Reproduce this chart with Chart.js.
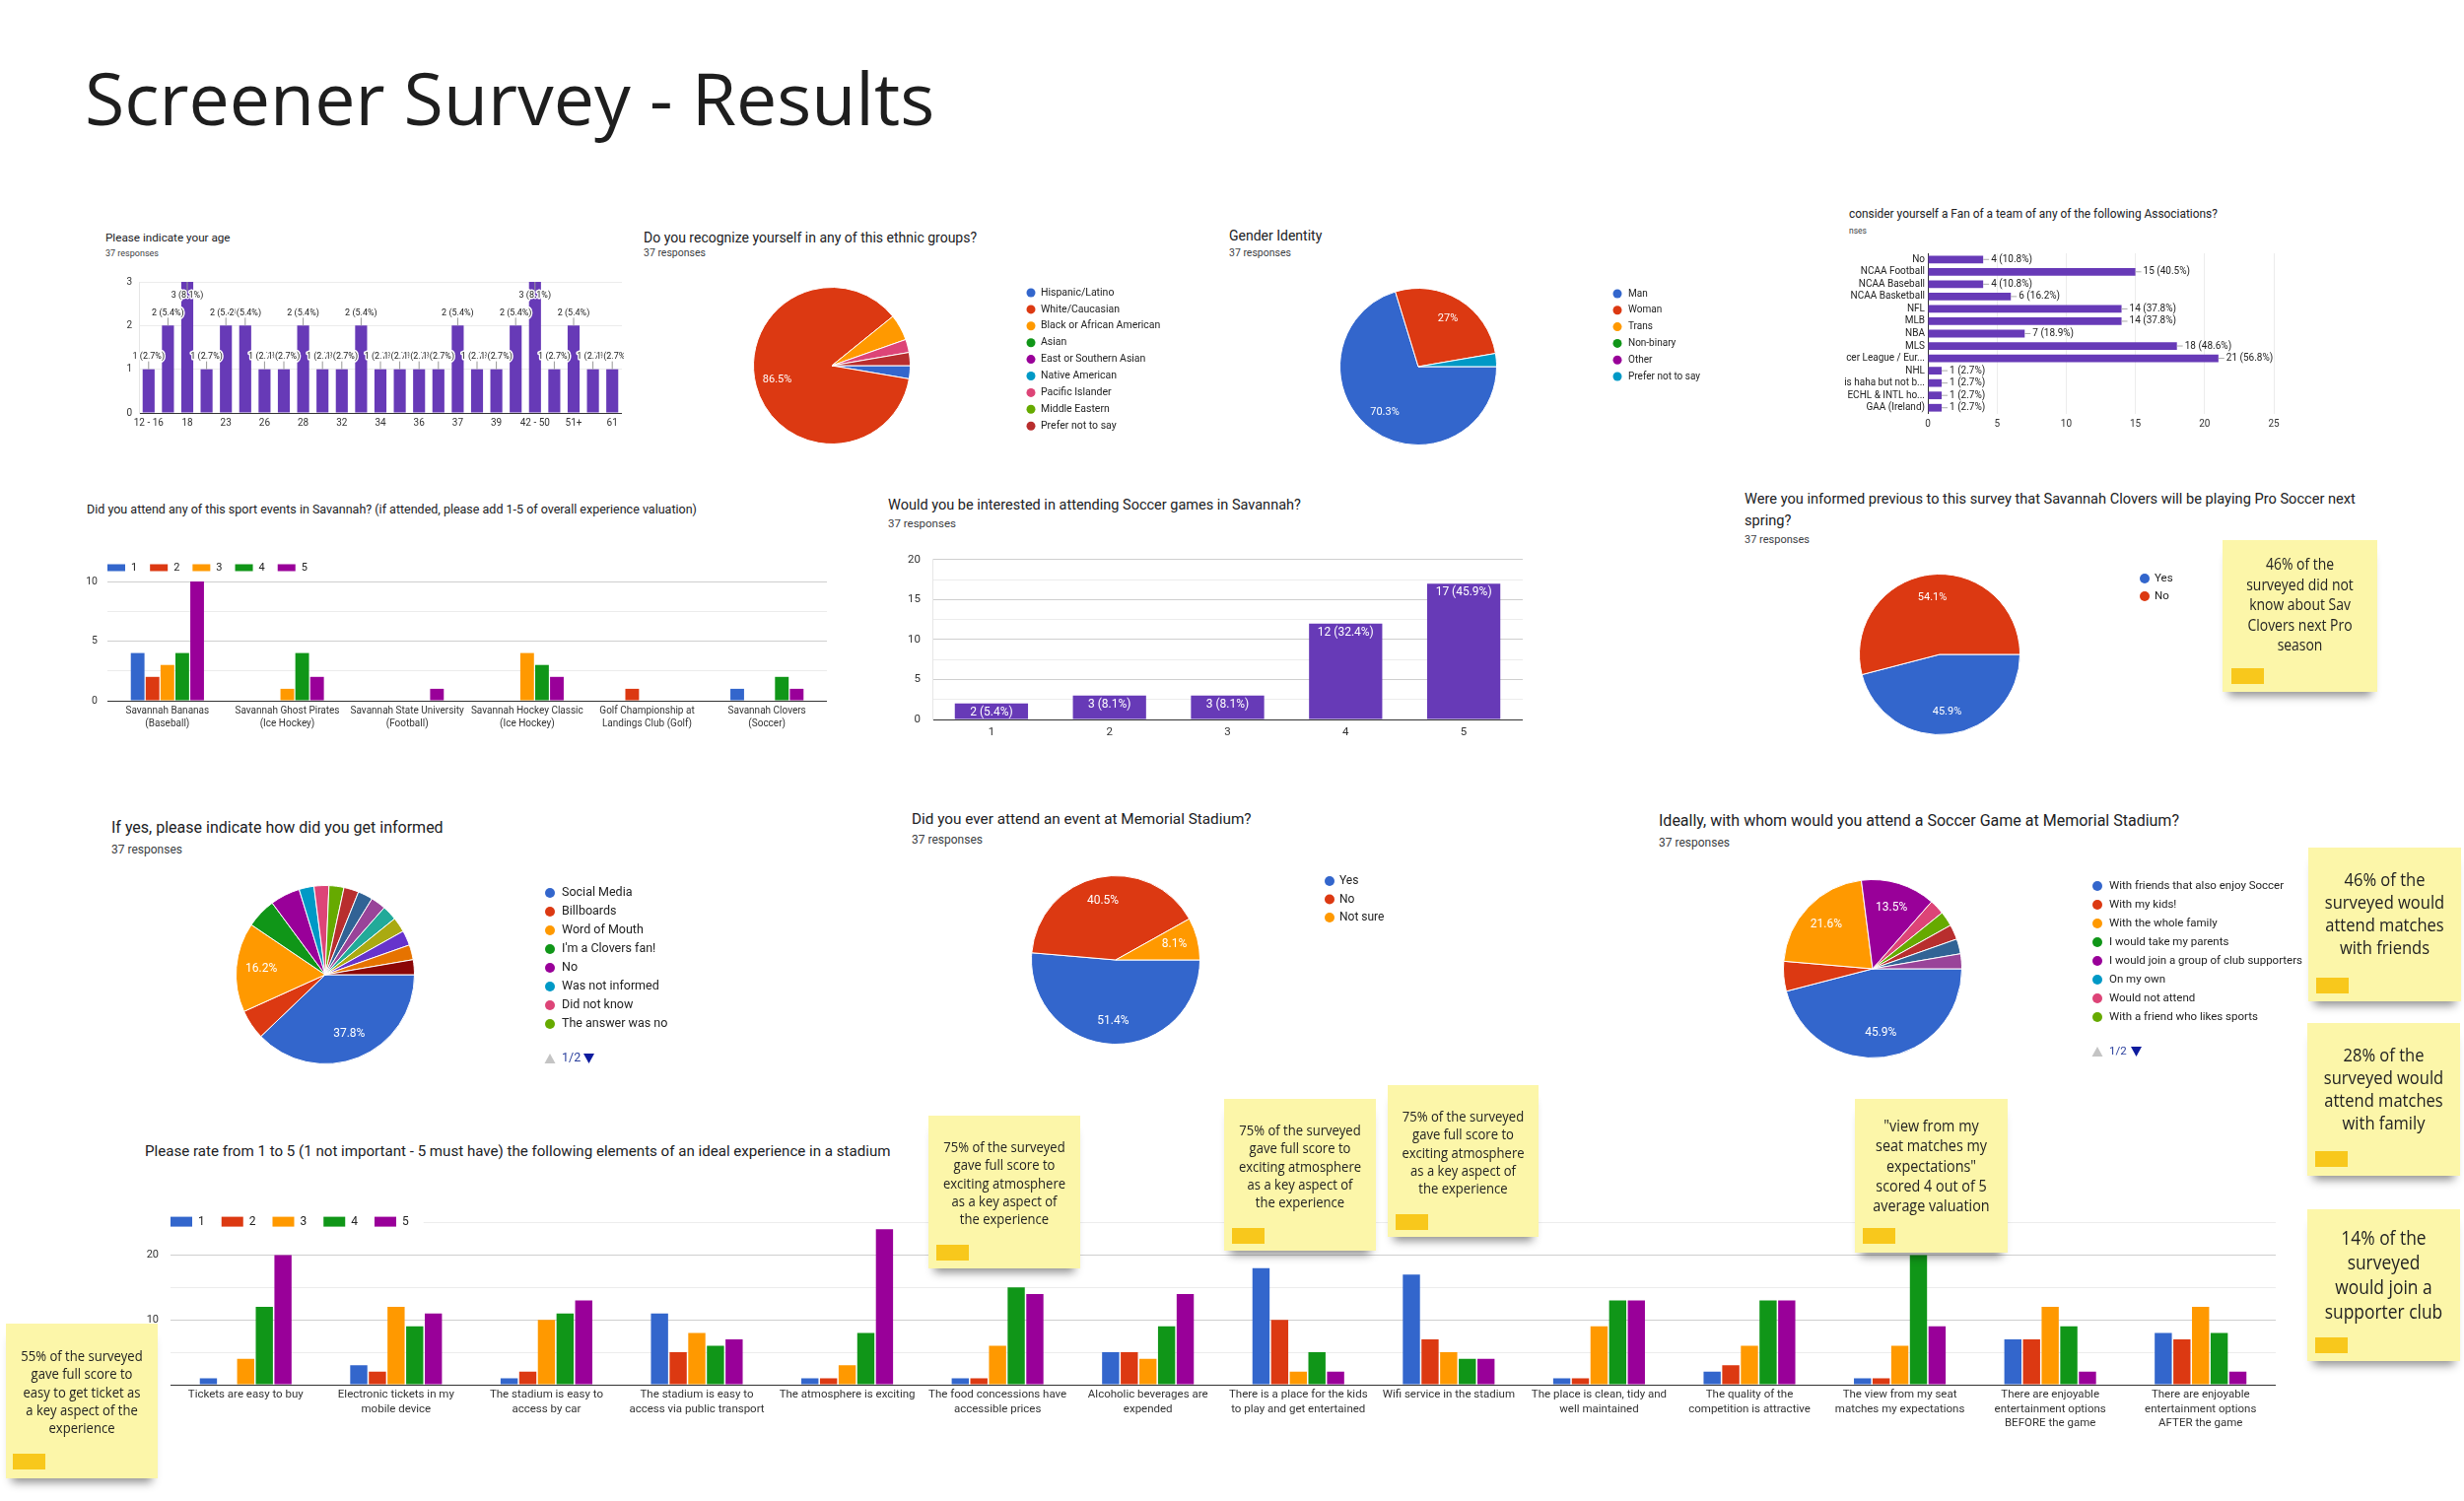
<!DOCTYPE html>
<html lang="en">
<head>
<meta charset="UTF-8">
<title>Screener Survey - Results</title>
<script src="https://cdn.jsdelivr.net/npm/chart.js"></script>
<style>
  body { margin: 0; background: #fff; }
  #page { position: relative; width: 2500px; height: 1523px; overflow: hidden; background: #fff; font-family: Roboto, Arial, sans-serif; color: #202124; }
  .q { position: absolute; white-space: nowrap; line-height: 1; color: #202124; }
  .r { position: absolute; white-space: nowrap; line-height: 1; color: #3c4043; }
  h1 { position: absolute; left: 86px; top: 62px; margin: 0; font: 400 73.5px/1 "Open Sans", sans-serif; color: #1e1e1e; }
  .note { position: absolute; z-index: 5; background: #fcf6a9; box-shadow: 0 10px 9px -6px rgba(0,0,0,0.45); box-sizing: border-box; font-family: "Open Sans", sans-serif; color: #222; }
  .note .t { text-align: center; white-space: nowrap; transform: scaleX(0.87); }
  .note i { position: absolute; width: 33px; height: 16px; background: #f8c81c; }
</style>
</head>
<body>
<div id="page">
  <h1>Screener Survey - Results</h1>

  <div class="q" style="left:107px;top:236px;font-size:11.7px">Please indicate your age</div>
  <div class="r" style="left:107px;top:253px;font-size:9px">37 responses</div>

  <div class="q" style="left:653px;top:233.5px;font-size:14px">Do you recognize yourself in any of this ethnic groups?</div>
  <div class="r" style="left:653px;top:252px;font-size:10.5px">37 responses</div>

  <div class="q" style="left:1247px;top:231.5px;font-size:14px">Gender Identity</div>
  <div class="r" style="left:1247px;top:252px;font-size:10.5px">37 responses</div>

  <div class="q" style="left:1876px;top:211.5px;font-size:11.9px">consider yourself a Fan of a team of any of the following Associations?</div>
  <div class="r" style="left:1876px;top:230px;font-size:8.5px">nses</div>

  <div class="q" style="left:88px;top:510.5px;font-size:12.5px">Did you attend any of this sport events in Savannah? (if attended, please add 1-5 of overall experience valuation)</div>

  <div class="q" style="left:901px;top:505.5px;font-size:14.5px">Would you be interested in attending Soccer games in Savannah?</div>
  <div class="r" style="left:901px;top:526px;font-size:11.5px">37 responses</div>

  <div class="q" style="left:1770px;top:495px;font-size:14.6px;line-height:22px">Were you informed previous to this survey that Savannah Clovers will be playing Pro Soccer next<br>spring?</div>
  <div class="r" style="left:1770px;top:542px;font-size:11px">37 responses</div>

  <div class="q" style="left:113px;top:831.5px;font-size:16px">If yes, please indicate how did you get informed</div>
  <div class="r" style="left:113px;top:856px;font-size:12px">37 responses</div>

  <div class="q" style="left:925px;top:824px;font-size:15.3px">Did you ever attend an event at Memorial Stadium?</div>
  <div class="r" style="left:925px;top:846px;font-size:12px">37 responses</div>

  <div class="q" style="left:1683px;top:824.5px;font-size:16px">Ideally, with whom would you attend a Soccer Game at Memorial Stadium?</div>
  <div class="r" style="left:1683px;top:849px;font-size:12px">37 responses</div>

  <div class="q" style="left:147px;top:1161px;font-size:15.1px">Please rate from 1 to 5 (1 not important - 5 must have) the following elements of an ideal experience in a stadium</div>

  <!-- sticky notes -->
  <div class="note" style="left:2255px;top:548px;width:157px;height:154px;font-size:16px;line-height:20.5px;padding-top:14px">
    <div class="t">46% of the<br>surveyed did not<br>know about Sav<br>Clovers next Pro<br>season</div><i style="left:9px;top:130px"></i>
  </div>
  <div class="note" style="left:2342px;top:860px;width:155px;height:156px;font-size:19px;line-height:23px;padding-top:21px">
    <div class="t">46% of the<br>surveyed would<br>attend matches<br>with friends</div><i style="left:8px;top:132px"></i>
  </div>
  <div class="note" style="left:2341px;top:1038px;width:155px;height:155px;font-size:19px;line-height:23px;padding-top:21px">
    <div class="t">28% of the<br>surveyed would<br>attend matches<br>with family</div><i style="left:8px;top:130px"></i>
  </div>
  <div class="note" style="left:2341px;top:1227px;width:155px;height:154px;font-size:20px;line-height:25px;padding-top:16px">
    <div class="t">14% of the<br>surveyed<br>would join a<br>supporter club</div><i style="left:8px;top:130px"></i>
  </div>
  <div class="note" style="left:6px;top:1343px;width:154px;height:157px;font-size:15px;line-height:18.3px;padding-top:23px">
    <div class="t">55% of the surveyed<br>gave full score to<br>easy to get ticket as<br>a key aspect of the<br>experience</div><i style="left:7px;top:132px"></i>
  </div>
  <div class="note" style="left:942px;top:1132px;width:154px;height:155px;font-size:15px;line-height:18.3px;padding-top:22px">
    <div class="t">75% of the surveyed<br>gave full score to<br>exciting atmosphere<br>as a key aspect of<br>the experience</div><i style="left:8px;top:131px"></i>
  </div>
  <div class="note" style="left:1242px;top:1115px;width:154px;height:154px;font-size:15px;line-height:18.3px;padding-top:22px">
    <div class="t">75% of the surveyed<br>gave full score to<br>exciting atmosphere<br>as a key aspect of<br>the experience</div><i style="left:8px;top:131px"></i>
  </div>
  <div class="note" style="left:1408px;top:1101px;width:153px;height:154px;font-size:15px;line-height:18.3px;padding-top:22px">
    <div class="t">75% of the surveyed<br>gave full score to<br>exciting atmosphere<br>as a key aspect of<br>the experience</div><i style="left:8px;top:131px"></i>
  </div>
  <div class="note" style="left:1882px;top:1115px;width:155px;height:156px;font-size:16.5px;line-height:20.3px;padding-top:17px">
    <div class="t">"view from my<br>seat matches my<br>expectations"<br>scored 4 out of 5<br>average valuation</div><i style="left:8px;top:131px"></i>
  </div>
</div>

<script>
// ---- data ----
const ageLabels = ['12 - 16', '', '18', '', '23', '', '26', '', '28', '', '32', '', '34', '', '36', '', '37', '', '39', '', '42 - 50', '', '51+', '', '61'];
const ageCounts = [1, 2, 3, 1, 2, 2, 1, 1, 2, 1, 1, 2, 1, 1, 1, 1, 2, 1, 1, 2, 3, 1, 2, 1, 1];

const ethnicLabels = ['Hispanic/Latino', 'White/Caucasian', 'Black or African American', 'Asian', 'East or Southern Asian', 'Native American', 'Pacific Islander', 'Middle Eastern', 'Prefer not to say'];
const ethnicCounts = [1, 32, 2, 0, 0, 0, 1, 0, 1];

const genderLabels = ['Man', 'Woman', 'Trans', 'Non-binary', 'Other', 'Prefer not to say'];
const genderCounts = [26, 10, 0, 0, 0, 1];

// labels are cut off at the left edge in the screenshot
const fanLabels = ['No', 'NCAA Football', 'NCAA Baseball', 'NCAA Basketball', 'NFL', 'MLB', 'NBA', 'MLS', 'cer League / Eur...', 'NHL', 'is haha but not b...', 'ECHL & INTL ho...', 'GAA (Ireland)'];
const fanCounts = [4, 15, 4, 6, 14, 14, 7, 18, 21, 1, 1, 1, 1];

const eventLabels = [['Savannah Bananas', '(Baseball)'], ['Savannah Ghost Pirates', '(Ice Hockey)'], ['Savannah State University', '(Football)'], ['Savannah Hockey Classic', '(Ice Hockey)'], ['Golf Championship at', 'Landings Club (Golf)'], ['Savannah Clovers', '(Soccer)']];
const eventScore1 = [4, 0, 0, 0, 0, 1];
const eventScore2 = [2, 0, 0, 0, 1, 0];
const eventScore3 = [3, 1, 0, 4, 0, 0];
const eventScore4 = [4, 4, 0, 3, 0, 2];
const eventScore5 = [10, 2, 1, 2, 0, 1];

const soccerLabels = ['1', '2', '3', '4', '5'];
const soccerCounts = [2, 3, 3, 12, 17];

const informedLabels = ['Yes', 'No'];
const informedCounts = [17, 20];

// only legend page 1/2 is visible, the last eight answers are unnamed here
const howLabels = ['Social Media', 'Billboards', 'Word of Mouth', "I'm a Clovers fan!", 'No', 'Was not informed', 'Did not know', 'The answer was no', 'Answer 9', 'Answer 10', 'Answer 11', 'Answer 12', 'Answer 13', 'Answer 14', 'Answer 15', 'Answer 16'];
const howCounts = [14, 2, 6, 2, 2, 1, 1, 1, 1, 1, 1, 1, 1, 1, 1, 1];

const memorialLabels = ['Yes', 'No', 'Not sure'];
const memorialCounts = [19, 15, 3];

const whomLabels = ['With friends that also enjoy Soccer', 'With my kids!', 'With the whole family', 'I would take my parents', 'I would join a group of club supporters', 'On my own', 'Would not attend', 'With a friend who likes sports', 'Answer 9', 'Answer 10', 'Answer 11'];
const whomCounts = [17, 2, 8, 0, 5, 0, 1, 1, 1, 1, 1];

const aspectLabels = [
  ['Tickets are easy to buy'], ['Electronic tickets in my', 'mobile device'], ['The stadium is easy to', 'access by car'],
  ['The stadium is easy to', 'access via public transport'], ['The atmosphere is exciting'], ['The food concessions have', 'accessible prices'],
  ['Alcoholic beverages are', 'expended'], ['There is a place for the kids', 'to play and get entertained'], ['Wifi service in the stadium'],
  ['The place is clean, tidy and', 'well maintained'], ['The quality of the', 'competition is attractive'], ['The view from my seat', 'matches my expectations'],
  ['There are enjoyable', 'entertainment options', 'BEFORE the game'], ['There are enjoyable', 'entertainment options', 'AFTER the game']
];
const aspect1 = [1, 3, 1, 11, 1, 1, 5, 18, 17, 1, 2, 1, 7, 8];
const aspect2 = [0, 2, 2, 5, 1, 1, 5, 10, 7, 1, 3, 1, 7, 7];
const aspect3 = [4, 12, 10, 8, 3, 6, 4, 2, 5, 9, 6, 6, 12, 12];
const aspect4 = [12, 9, 11, 6, 8, 15, 9, 5, 4, 13, 13, 20, 9, 8];
const aspect5 = [20, 11, 13, 7, 24, 14, 14, 2, 4, 13, 13, 9, 2, 2];

const RESPONSES = 37;
const PALETTE = ['#3366cc', '#dc3912', '#ff9900', '#109618', '#990099', '#0099c6', '#dd4477', '#66aa00', '#b82e2e', '#316395', '#994499', '#22aa99', '#aaaa11', '#6633cc', '#e67300', '#8b0707'];
const PURPLE = '#673ab7';
const FONT = 'Roboto, Arial, sans-serif';

function pct(v, total) {
  return (Math.round(v / total * 1000) / 10) + '%';
}

// ---- plugins ----
const barNotes = {
  id: 'barNotes',
  afterDatasetsDraw(chart, args, o) {
    if (!o || !o.mode) return;
    const ctx = chart.ctx, area = chart.chartArea;
    const values = chart.data.datasets[0].data;
    ctx.save();
    ctx.font = o.size + 'px ' + FONT;
    ctx.textBaseline = 'middle';
    chart.getDatasetMeta(0).data.forEach((bar, i) => {
      const text = values[i] + ' (' + pct(values[i], o.total) + ')';
      if (o.mode === 'inside') {
        ctx.fillStyle = '#fff';
        ctx.textAlign = 'center';
        ctx.fillText(text, bar.x, bar.y + 9);
      } else if (o.mode === 'above') {
        const up = bar.y - 20 > area.top;
        const stemEnd = up ? bar.y - 8 : bar.y + 9;
        const ty = up ? bar.y - 13 : bar.y + 14;
        ctx.strokeStyle = '#999';
        ctx.lineWidth = 1;
        ctx.beginPath(); ctx.moveTo(bar.x, bar.y); ctx.lineTo(bar.x, stemEnd); ctx.stroke();
        ctx.textAlign = 'center';
        ctx.lineJoin = 'round';
        ctx.lineWidth = 3;
        ctx.strokeStyle = '#fff';
        ctx.strokeText(text, bar.x, ty);
        ctx.fillStyle = '#222';
        ctx.fillText(text, bar.x, ty);
      } else if (o.mode === 'right') {
        ctx.strokeStyle = '#aaa';
        ctx.lineWidth = 1;
        ctx.beginPath(); ctx.moveTo(bar.x, bar.y); ctx.lineTo(bar.x + 6, bar.y); ctx.stroke();
        ctx.textAlign = 'left';
        ctx.fillStyle = '#222';
        ctx.fillText(text, bar.x + 8, bar.y);
      }
    });
    ctx.restore();
  }
};

const pieLabels = {
  id: 'pieLabels',
  afterDatasetsDraw(chart, args, o) {
    if (!o || !o.size) return;
    const values = chart.data.datasets[0].data;
    const total = values.reduce((a, b) => a + b, 0);
    const ctx = chart.ctx;
    ctx.save();
    ctx.font = o.size + 'px ' + FONT;
    ctx.fillStyle = '#fff';
    ctx.textAlign = 'center';
    ctx.textBaseline = 'middle';
    chart.getDatasetMeta(0).data.forEach((arc, i) => {
      if (values[i] / total < 0.07) return;
      const mid = (arc.startAngle + arc.endAngle) / 2;
      const r = arc.outerRadius * 0.72;
      ctx.fillText(pct(values[i], total), arc.x + Math.cos(mid) * r, arc.y + Math.sin(mid) * r);
    });
    ctx.restore();
  }
};

// google-forms style legend with round dots, placed beside the pie
const dotLegend = {
  id: 'dotLegend',
  afterDraw(chart, args, o) {
    if (!o || !o.gap) return;
    const ctx = chart.ctx;
    const labels = chart.data.labels;
    const colors = chart.data.datasets[0].backgroundColor;
    const n = Math.min(labels.length, o.max || labels.length);
    ctx.save();
    ctx.font = o.size + 'px ' + FONT;
    ctx.textBaseline = 'middle';
    ctx.textAlign = 'left';
    for (let i = 0; i < n; i++) {
      const y = o.y + i * o.gap;
      ctx.fillStyle = colors[i];
      ctx.beginPath(); ctx.arc(o.x, y, o.dot / 2, 0, Math.PI * 2); ctx.fill();
      ctx.fillStyle = '#222';
      ctx.fillText(labels[i], o.x + o.textGap, y);
    }
    if (o.pager) {
      const y = o.pager;
      ctx.fillStyle = '#c4c4c4';
      ctx.beginPath(); ctx.moveTo(o.x - 5.5, y + 5); ctx.lineTo(o.x + 5.5, y + 5); ctx.lineTo(o.x, y - 5); ctx.fill();
      ctx.fillStyle = '#2a3f9d';
      ctx.fillText('1/2', o.x + 12, y);
      ctx.fillStyle = '#0d1b9e';
      ctx.beginPath(); ctx.moveTo(o.x + 34, y - 5); ctx.lineTo(o.x + 45, y - 5); ctx.lineTo(o.x + 39.5, y + 5); ctx.fill();
    }
    ctx.restore();
  }
};

// legend row of small rectangles sitting over the top-left of the plot
const boxLegend = {
  id: 'boxLegend',
  afterDraw(chart, args, o) {
    if (!o || !o.box) return;
    const ctx = chart.ctx, area = chart.chartArea;
    let x = area.left;
    const y = area.top + o.dy;
    ctx.save();
    ctx.font = o.size + 'px ' + FONT;
    ctx.textBaseline = 'middle';
    ctx.textAlign = 'left';
    chart.data.datasets.forEach(ds => {
      const tw = ctx.measureText(ds.label).width;
      if (o.clear) {
        ctx.fillStyle = '#fff';
        ctx.fillRect(x - 2, y - 8, o.box + o.textGap + tw + o.gap, 16);
      }
      ctx.fillStyle = ds.backgroundColor;
      ctx.fillRect(x, y - o.boxH / 2, o.box, o.boxH);
      ctx.fillStyle = '#222';
      ctx.fillText(ds.label, x + o.box + o.textGap, y);
      x += o.box + o.textGap + tw + o.gap;
    });
    ctx.restore();
  }
};

Chart.register(barNotes, pieLabels, dotLegend, boxLegend);
Chart.defaults.font.family = FONT;
Chart.defaults.color = '#333';
Chart.defaults.animation = false;
Chart.defaults.events = [];
Chart.defaults.responsive = false;
Chart.defaults.plugins.legend.display = false;
Chart.defaults.plugins.tooltip.enabled = false;

function box(left, top, w, h) {
  const c = document.createElement('canvas');
  c.width = w;
  c.height = h;
  c.style.cssText = 'position:absolute;left:' + left + 'px;top:' + top + 'px;width:' + w + 'px;height:' + h + 'px';
  document.getElementById('page').appendChild(c);
  return c;
}

function gridColor(majors) {
  return c => c.tick.value === 0 ? '#333' : (majors.includes(c.tick.value) ? '#cfcfcf' : '#ececec');
}

function onlyTicks(list) {
  return v => list.includes(v) ? v : '';
}

const noGrid = { display: false, drawTicks: false };

function pie(canvas, labels, values, padding, legend, labelSize) {
  return new Chart(canvas, {
    type: 'pie',
    data: {
      labels: labels,
      datasets: [{
        data: values,
        backgroundColor: PALETTE.slice(0, values.length),
        borderColor: '#fff',
        borderWidth: values.map(v => v ? 1 : 0),
        hoverOffset: 0
      }]
    },
    options: {
      rotation: 90,
      layout: { padding: padding },
      plugins: { pieLabels: { size: labelSize }, dotLegend: legend }
    }
  });
}

// ---- row 1 ----
// note: a vertical axis reserves (half label height + tick padding) above the plot
new Chart(box(119, 273, 514, 168), {
  type: 'bar',
  data: { labels: ageLabels, datasets: [{ data: ageCounts, backgroundColor: PURPLE, categoryPercentage: 0.62, barPercentage: 1 }] },
  options: {
    layout: { padding: { top: 0, right: 2, bottom: 4 } },
    plugins: { barNotes: { mode: 'above', total: RESPONSES, size: 9 } },
    scales: {
      x: { grid: noGrid, border: { display: false }, ticks: { autoSkip: false, maxRotation: 0, font: { size: 10 }, padding: 4 }, afterFit: s => { s.height = 18; } },
      y: { min: 0, max: 3, ticks: { stepSize: 1, font: { size: 10 }, padding: 7 }, grid: { drawTicks: false, color: gridColor([]) }, border: { display: true, color: '#e6e6e6' }, afterFit: s => { s.width = 22; } }
    }
  }
});

pie(box(764, 291, 496, 160), ethnicLabels, ethnicCounts, { right: 336 },
  { x: 282, y: 6, gap: 16.9, dot: 9, size: 10.5, textGap: 10 }, 11);

pie(box(1359, 292, 420, 160), genderLabels, genderCounts, { right: 260 },
  { x: 282, y: 6, gap: 16.8, dot: 9, size: 10, textGap: 11 }, 11);

new Chart(box(1872, 248, 447, 192), {
  type: 'bar',
  data: { labels: fanLabels, datasets: [{ data: fanCounts, backgroundColor: PURPLE, categoryPercentage: 0.62, barPercentage: 1 }] },
  options: {
    indexAxis: 'y',
    layout: { padding: { top: 0, right: 12, bottom: 2 } },
    plugins: { barNotes: { mode: 'right', total: RESPONSES, size: 10 } },
    scales: {
      x: { min: 0, max: 25, ticks: { stepSize: 5, font: { size: 10 }, padding: 4 }, grid: { drawTicks: false, color: gridColor([]) }, border: { display: false }, afterFit: s => { s.height = 18; } },
      y: { grid: noGrid, border: { display: false }, ticks: { font: { size: 10 }, color: '#222', padding: 3, autoSkip: false }, afterFit: s => { s.width = 84; } }
    }
  }
});

// ---- row 2 ----
new Chart(box(81, 565, 762, 182), {
  type: 'bar',
  data: {
    labels: eventLabels,
    datasets: [eventScore1, eventScore2, eventScore3, eventScore4, eventScore5].map((d, i) => ({
      label: String(i + 1), data: d, backgroundColor: PALETTE[i], categoryPercentage: 0.62, barPercentage: 0.92
    }))
  },
  options: {
    layout: { padding: { top: 25, right: 4, bottom: 4 } },
    plugins: { boxLegend: { box: 18, boxH: 7, textGap: 6, gap: 13, size: 11, dy: -14 } },
    scales: {
      x: { grid: noGrid, border: { display: false }, ticks: { autoSkip: false, maxRotation: 0, font: { size: 10, lineHeight: 1.3 }, padding: 4 }, afterFit: s => { s.height = 32; } },
      y: { min: 0, max: 10, ticks: { stepSize: 2.5, callback: onlyTicks([0, 5, 10]), font: { size: 10.5 }, padding: 10 }, grid: { drawTicks: false, color: gridColor([5, 10]) }, border: { display: false }, afterFit: s => { s.width = 28; } }
    }
  }
});

new Chart(box(912, 549, 635, 207), {
  type: 'bar',
  data: { labels: soccerLabels, datasets: [{ data: soccerCounts, backgroundColor: PURPLE, categoryPercentage: 0.62, barPercentage: 1 }] },
  options: {
    layout: { padding: { top: 0, right: 2, bottom: 4 } },
    plugins: { barNotes: { mode: 'inside', total: RESPONSES, size: 12 } },
    scales: {
      x: { grid: noGrid, border: { display: false }, ticks: { font: { size: 11.5 }, padding: 6 }, afterFit: s => { s.height = 22; } },
      y: { min: 0, max: 20, ticks: { stepSize: 2.5, callback: onlyTicks([0, 5, 10, 15, 20]), font: { size: 11.5 }, padding: 12 }, grid: { drawTicks: false, color: gridColor([5, 10, 15, 20]) }, border: { display: true, color: '#e6e6e6' }, afterFit: s => { s.width = 34; } }
    }
  }
});

pie(box(1886, 582, 400, 164), informedLabels, informedCounts, { right: 236 },
  { x: 290, y: 5, gap: 18, dot: 10, size: 11.5, textGap: 10 }, 11);

// ---- row 3 ----
pie(box(239, 898, 560, 190), howLabels, howCounts, { right: 378, bottom: 8 },
  { x: 319, y: 8, gap: 19, dot: 10, size: 12.5, textGap: 12, max: 8, pager: 176 }, 12);

pie(box(1046, 888, 450, 172), memorialLabels, memorialCounts, { right: 278 },
  { x: 303, y: 6, gap: 18.5, dot: 10, size: 12, textGap: 10 }, 12);

pie(box(1809, 892, 560, 190), whomLabels, whomCounts, { right: 378, bottom: 8 },
  { x: 319, y: 7, gap: 19, dot: 10, size: 11.5, textGap: 12, max: 8, pager: 175 }, 12);

// ---- bottom ----
new Chart(box(143, 1222, 2170, 235), {
  type: 'bar',
  data: {
    labels: aspectLabels,
    datasets: [aspect1, aspect2, aspect3, aspect4, aspect5].map((d, i) => ({
      label: String(i + 1), data: d, backgroundColor: PALETTE[i], categoryPercentage: 0.62, barPercentage: 0.92
    }))
  },
  options: {
    layout: { padding: { top: 0, right: 4, bottom: 4 } },
    plugins: { boxLegend: { box: 22, boxH: 10, textGap: 6, gap: 17, size: 12, dy: -1, clear: true } },
    scales: {
      x: { grid: noGrid, border: { display: false }, ticks: { autoSkip: false, maxRotation: 0, font: { size: 11.5, lineHeight: 1.26 }, padding: 3 }, afterFit: s => { s.height = 48; } },
      y: { min: 0, max: 25, ticks: { stepSize: 5, callback: onlyTicks([10, 20]), font: { size: 11 }, padding: 12 }, grid: { drawTicks: false, color: gridColor([10, 20]) }, border: { display: false }, afterFit: s => { s.width = 30; } }
    }
  }
});
</script>
</body>
</html>
